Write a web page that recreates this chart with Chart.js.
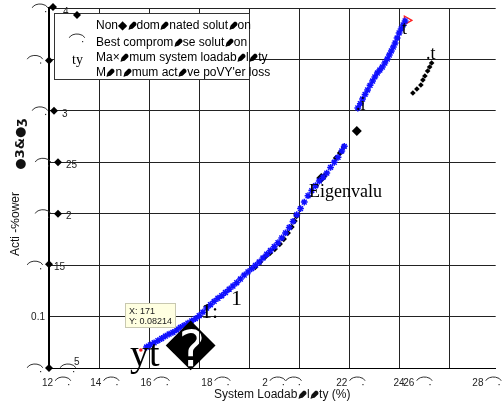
<!DOCTYPE html>
<html>
<head>
<meta charset="utf-8">
<script src="https://cdn.jsdelivr.net/npm/chart.js@4/dist/chart.umd.min.js"></script>
<style>
  html, body { margin: 0; padding: 0; background: #fff; }
  #wrap { width: 502px; height: 406px; }
</style>
</head>
<body>
<div id="wrap"><canvas id="chart" width="502" height="406"></canvas></div>
<script>
// Pareto front (system loadability %, active power loss)
const frontX = [15.90, 16.05, 16.20, 16.35, 16.50, 16.65, 16.80, 16.95, 17.10, 17.25,
  17.40, 17.55, 17.70, 17.85, 18.00, 18.15, 18.30, 18.45, 18.60, 18.75,
  18.90, 19.05, 19.20, 19.35, 19.50, 19.65, 19.80, 19.95, 20.10, 20.25,
  20.40, 20.55, 20.70, 20.85, 21.00, 21.15, 21.30, 21.45, 21.60, 21.75,
  21.90, 22.05, 22.20, 22.35, 22.50, 22.65, 22.80, 22.95, 23.10, 23.25,
  23.40, 23.55, 23.70, 23.80,
  24.34, 24.44, 24.53, 24.63, 24.73, 24.83, 24.93, 25.02, 25.12, 25.22,
  25.32, 25.42, 25.52, 25.60, 25.68, 25.76, 25.83, 25.91, 25.99, 26.07, 26.15, 26.23];
const frontY = [0.0704, 0.0725, 0.0745, 0.0766, 0.0787, 0.0810, 0.0830, 0.0846, 0.0870, 0.0895,
  0.0915, 0.0936, 0.0958, 0.0980, 0.1008, 0.1043, 0.1083, 0.1115, 0.1148, 0.1178,
  0.1203, 0.1234, 0.1266, 0.1297, 0.1329, 0.1365, 0.1403, 0.1434, 0.1466, 0.1498,
  0.1530, 0.1569, 0.1606, 0.1642, 0.1679, 0.1718, 0.1765, 0.1813, 0.1866, 0.1925,
  0.1990, 0.2050, 0.2113, 0.2175, 0.2225, 0.2272, 0.2318, 0.2355, 0.2395, 0.2450,
  0.2500, 0.2548, 0.2610, 0.2655,
  0.3028, 0.3070, 0.3115, 0.3160, 0.3203, 0.3248, 0.3290, 0.3330, 0.3368, 0.3397,
  0.3426, 0.3465, 0.3504, 0.3543, 0.3582, 0.3620, 0.3660, 0.3708, 0.3757, 0.3796, 0.3835, 0.3874];

// non-dominated solutions (black)
const nonDomX = [20.24, 20.43, 20.63, 20.83, 21.02, 21.22, 21.38, 21.54, 21.69, 21.81, 21.89,
  22.88, 23.00, 23.47, 23.63, 23.78, 24.30];
const nonDomY = [0.1482, 0.1531, 0.1579, 0.1618, 0.1657, 0.1706, 0.1754, 0.1812, 0.1871, 0.1929, 0.1978,
  0.2347, 0.2367, 0.2542, 0.2590, 0.2649, 0.2804];

// separate cluster on the right
const clusterX = [26.54, 26.70, 26.86, 26.94, 27.02, 27.13, 27.21, 27.29];
const clusterY = [0.3174, 0.3212, 0.3251, 0.3300, 0.3339, 0.3387, 0.3426, 0.3465];

const bestX = [26.30], bestY = [0.3880];
const startX = [15.67], startY = [0.0675];

// axes
const xGrid = [12, 14, 16, 18, 20, 22, 24, 26, 28];
const yGrid = [0.05, 0.1, 0.15, 0.2, 0.25, 0.3, 0.35, 0.4];
const xLabelText = ['12', '14', '16', '18', '2', '22', '24', '26', '28'];
const xLabelAt = [11.94, 13.87, 15.88, 18.31, 20.63, 23.70, 25.99, 26.38, 29.14];
const yLabelText = ['5', '0.1', '15', '2', '25', '3', '35', '4'];

const legendLines = [
  'Non\u25C6\u270Fdom\u270Fnated solut\u270Fon',
  'Best comprom\u270Fse solut\u270Fon',
  'Ma\u00D7\u270Fmum system loadab\u270Fl\u270Fty',
  'M\u270Fn\u270Fmum act\u270Fve poVY\'er loss'
];

function pts(xs, ys) {
  return xs.map((v, i) => ({ x: v, y: ys[i] }));
}

function diamond(ctx, cx, cy, r) {
  ctx.beginPath();
  ctx.moveTo(cx, cy - r);
  ctx.lineTo(cx + r, cy);
  ctx.lineTo(cx, cy + r);
  ctx.lineTo(cx - r, cy);
  ctx.closePath();
  ctx.fillStyle = '#000';
  ctx.fill();
}

// the broken "0" glyph: a small arc with a dot under its right end
function arcGlyph(ctx, cx, cy) {
  ctx.beginPath();
  ctx.ellipse(cx, cy + 5, 8, 5, 0, Math.PI * 1.08, Math.PI * 1.92);
  ctx.strokeStyle = '#333';
  ctx.lineWidth = 1;
  ctx.stroke();
  ctx.fillStyle = '#333';
  ctx.fillRect(cx + 5, cy + 7, 1.2, 1.2);
}

// text where the lost "i" shows up as a black pencil (mirrored lower-right pencil)
function garbled(ctx, str, x, y) {
  const parts = str.split('\u270F');
  let cx = x;
  ctx.textAlign = 'left';
  parts.forEach((p, i) => {
    ctx.fillText(p, cx, y);
    cx += ctx.measureText(p).width;
    if (i < parts.length - 1) {
      const w = ctx.measureText('\u270E').width * 0.95;
      ctx.save();
      ctx.translate(cx + w, y + 1);
      ctx.scale(-0.95, 0.95);
      ctx.strokeStyle = ctx.fillStyle;
      ctx.lineWidth = 0.9;
      ctx.fillText('\u270E', 0, 0);
      ctx.strokeText('\u270E', 0, 0);
      ctx.restore();
      cx += w;
    }
  });
}

// where each y label piece sits, relative to the axis line and the tick
const yLabelLayout = [
  { d: [0, 0], lx: 25, ly: -6, arcs: [-14, 19] },   // 0.05
  { d: null, lx: -4, ly: 1, arcs: [] },              // 0.1
  { d: [0, -1], lx: 5, ly: 2, arcs: [-14] },         // 0.15
  { d: [9, 0], lx: 17, ly: 3, arcs: [-6] },          // 0.2
  { d: [9, 0], lx: 17, ly: 3, arcs: [-6] },          // 0.25
  { d: [5, 0], lx: 13, ly: 3, arcs: [-9] },          // 0.3
  { d: [0, 1], lx: 9, ly: 3, arcs: [-14] },          // 0.35
  { d: [4, -1], lx: 14, ly: 4, arcs: [-9] }          // 0.4
];

const overlay = {
  id: 'overlay',
  beforeDraw(chart) {
    const ctx = chart.ctx;
    ctx.save();
    ctx.fillStyle = '#fff';
    ctx.fillRect(0, 0, chart.width, chart.height);
    ctx.restore();
  },
  afterDraw(chart) {
    const { ctx, scales: { x, y }, chartArea: ca } = chart;
    ctx.save();

    // left axis line
    ctx.strokeStyle = '#000';
    ctx.lineWidth = 2;
    ctx.beginPath();
    ctx.moveTo(ca.left, ca.top);
    ctx.lineTo(ca.left, ca.bottom);
    ctx.stroke();

    // y tick labels
    ctx.font = '10px "Liberation Sans", Arial, sans-serif';
    ctx.textBaseline = 'middle';
    yGrid.forEach((v, i) => {
      const py = y.getPixelForValue(v);
      const L = yLabelLayout[i];
      L.arcs.forEach(a => arcGlyph(ctx, ca.left + a, py - 4));
      if (L.d) diamond(ctx, ca.left + L.d[0], py + L.d[1], 4);
      ctx.fillStyle = '#222';
      ctx.textAlign = L.d ? 'left' : 'right';
      ctx.fillText(yLabelText[i], ca.left + L.lx, py + L.ly);
    });

    // x tick labels
    ctx.textAlign = 'center';
    xLabelText.forEach((t, i) => {
      const px = x.getPixelForValue(xLabelAt[i]);
      ctx.fillStyle = '#222';
      ctx.fillText(t, px, ca.bottom + 15);
      const w = ctx.measureText(t).width;
      if (i !== 6) arcGlyph(ctx, px + w / 2 + 10, ca.bottom + 9);
      if (i === 4) arcGlyph(ctx, px + w / 2 + 26, ca.bottom + 9);
    });

    // axis titles
    ctx.fillStyle = '#111';
    ctx.font = '12px "Liberation Sans", Arial, sans-serif';
    ctx.textBaseline = 'alphabetic';
    garbled(ctx, 'System Loadab\u270Fl\u270Fty (%)', 214, 398);
    ctx.save();
    ctx.translate(19, 224);
    ctx.rotate(-Math.PI / 2);
    ctx.textAlign = 'center';
    ctx.fillText('Acti -\u2105ower', 0, 0);
    ctx.font = 'bold 13px "DejaVu Sans", sans-serif';
    ctx.fillText('\u25CF3&\u25CF\u0292', 80, 5);
    ctx.restore();

    // legend box
    ctx.fillStyle = '#fff';
    ctx.fillRect(54, 13, 195, 66);
    ctx.strokeStyle = '#333';
    ctx.lineWidth = 1;
    ctx.strokeRect(54.5, 13.5, 195, 66);
    diamond(ctx, 77, 15, 4);
    arcGlyph(ctx, 77, 34);
    ctx.font = '12px "Liberation Sans", Arial, sans-serif';
    ctx.fillStyle = '#000';
    const ly = [29, 46, 61, 76];
    legendLines.forEach((t, i) => garbled(ctx, t, 96, ly[i]));
    ctx.font = '14px "Liberation Serif", serif';
    ctx.fillText('ty', 72, 64);

    // tooltip box
    ctx.fillStyle = '#ffffe1';
    ctx.fillRect(125, 303, 50, 24);
    ctx.strokeStyle = '#c8c8b0';
    ctx.strokeRect(125.5, 303.5, 50, 24);
    ctx.fillStyle = '#222';
    ctx.font = '9px "Liberation Sans", Arial, sans-serif';
    ctx.fillText('X: 171', 129, 314);
    ctx.fillText('Y: 0.08214', 129, 324);

    // stray glyphs
    ctx.fillStyle = '#000';
    ctx.font = '38px "Liberation Serif", serif';
    ctx.fillText('yt', 130, 366);
    ctx.font = '50px "DejaVu Sans", sans-serif';
    ctx.fillText('\uFFFD', 165, 366);
    ctx.font = '22px "Liberation Serif", serif';
    ctx.fillText('1:', 201, 318);
    ctx.fillText('1', 231, 305);
    ctx.font = '18px "Liberation Serif", serif';
    ctx.fillText('Eigenvalu', 309, 197);
    ctx.fillText('t', 402, 34);
    ctx.fillText('.t', 426, 59);
    ctx.fillText('.i', 356, 110);
    ctx.restore();
  }
};

new Chart(document.getElementById('chart'), {
  type: 'scatter',
  data: {
    datasets: [
      {
        label: 'front',
        data: pts(frontX, frontY),
        pointStyle: 'star',
        radius: 3.4,
        borderColor: '#1010ff',
        backgroundColor: '#1010ff',
        borderWidth: 1.5
      },
      {
        label: 'best',
        data: pts(bestX, bestY),
        pointStyle: 'triangle',
        rotation: 90,
        radius: 5,
        borderColor: '#ff2020',
        backgroundColor: 'rgba(0,0,0,0)',
        borderWidth: 1.3
      },
      {
        label: 'start',
        data: pts(startX, startY),
        pointStyle: 'circle',
        radius: 1.8,
        borderColor: '#ff2020',
        backgroundColor: '#ff2020',
        borderWidth: 0
      },
      {
        label: 'non-dominated',
        data: pts(nonDomX, nonDomY),
        pointStyle: 'rectRot',
        radius: nonDomX.map((v, i) => (i === nonDomX.length - 1 || i === 11) ? 5 : 3.2),
        borderColor: '#000',
        backgroundColor: '#000',
        borderWidth: 0
      },
      {
        label: 'cluster',
        data: pts(clusterX, clusterY),
        pointStyle: 'rectRot',
        radius: 2.8,
        borderColor: '#000',
        backgroundColor: '#000',
        borderWidth: 0
      }
    ]
  },
  options: {
    responsive: false,
    devicePixelRatio: 1,
    animation: false,
    layout: { padding: { left: 49, top: 8, right: 0, bottom: 38 } },
    plugins: { legend: { display: false }, tooltip: { enabled: false } },
    scales: {
      x: {
        type: 'linear',
        min: 12,
        max: 29.85,
        afterBuildTicks: s => { s.ticks = xGrid.map(v => ({ value: v })); },
        afterFit: s => { s.height = 0; },
        ticks: { display: false },
        grid: { color: '#222', lineWidth: 1, drawTicks: false },
        border: { display: true, color: '#000', width: 1 }
      },
      y: {
        type: 'linear',
        min: 0.05,
        max: 0.4,
        afterBuildTicks: s => { s.ticks = yGrid.map(v => ({ value: v })); },
        afterFit: s => { s.width = 0; },
        ticks: { display: false },
        grid: { color: '#222', lineWidth: 1, drawTicks: false },
        border: { display: true, color: '#000', width: 2 }
      }
    }
  },
  plugins: [overlay]
});
</script>
</body>
</html>
